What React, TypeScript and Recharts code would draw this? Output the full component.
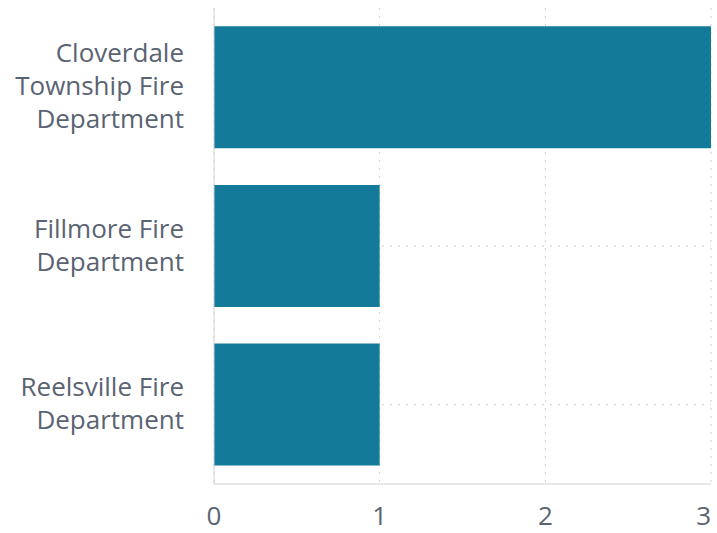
import React from "react";
import { BarChart, Bar, XAxis, YAxis, CartesianGrid } from "recharts";

const departments = [
  "Cloverdale Township Fire Department",
  "Fillmore Fire Department",
  "Reelsville Fire Department",
];
const counts = [3, 1, 1];
const xTicks = [0, 1, 2, 3];

const data = departments.map((name, i) => ({ name, value: counts[i] }));

const FONT = "'Open Sans', sans-serif";
const TEXT_COLOR = "#5a6372";
const FONT_SIZE = 26;
const LINE_HEIGHT = 33;

function wrap(label: string, maxChars: number): string[] {
  const words = label.split(" ");
  const lines: string[] = [];
  let cur = "";
  for (const w of words) {
    const next = cur ? cur + " " + w : w;
    if (next.length > maxChars && cur) {
      lines.push(cur);
      cur = w;
    } else {
      cur = next;
    }
  }
  if (cur) lines.push(cur);
  return lines;
}

const YTick = (props: any) => {
  const { x, y, payload } = props;
  const lines = wrap(String(payload.value), 15);
  const startDy = -((lines.length - 1) * LINE_HEIGHT) / 2;
  return (
    <text
      x={x}
      y={y}
      textAnchor="end"
      fontSize={FONT_SIZE}
      fontFamily={FONT}
      fill={TEXT_COLOR}
    >
      {lines.map((l, i) => (
        <tspan key={i} x={x} dy={i === 0 ? startDy + 8 : LINE_HEIGHT}>
          {l}
        </tspan>
      ))}
    </text>
  );
};

const XTick = (props: any) => {
  const { x, y, payload, index } = props;
  const last = index === xTicks.length - 1;
  return (
    <text
      x={x}
      y={y}
      dy={37}
      textAnchor={last ? "end" : "middle"}
      fontSize={FONT_SIZE}
      fontFamily={FONT}
      fill={TEXT_COLOR}
    >
      {payload.value}
    </text>
  );
};

export default function App() {
  return (
    <div style={{ position: "absolute", left: 0, top: 0 }}>
      <BarChart
        width={717}
        height={533}
        data={data}
        layout="vertical"
        margin={{ top: 8, right: 6, bottom: 0, left: 0 }}
        barCategoryGap="11.5%"
      >
        <CartesianGrid stroke="#cfcfcf" strokeDasharray="2 6" syncWithTicks />
        <XAxis
          type="number"
          domain={[0, 3]}
          ticks={xTicks}
          axisLine={{ stroke: "#d0d0d0" }}
          tickLine={false}
          tickSize={0}
          tickMargin={4}
          height={49}
          tick={<XTick />}
          interval={0}
        />
        <YAxis
          type="category"
          dataKey="name"
          width={214}
          axisLine={{ stroke: "#d0d0d0" }}
          tickLine={false}
          tickSize={0}
          tickMargin={30}
          tick={<YTick />}
          interval={0}
        />
        <Bar dataKey="value" fill="#147a99" isAnimationActive={false} />
      </BarChart>
    </div>
  );
}
